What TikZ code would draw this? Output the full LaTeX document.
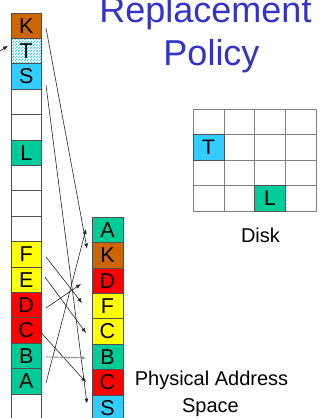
\documentclass[tikz,border=0pt]{standalone}
\usepackage{fontspec}
\setmainfont{Liberation Sans}
\usetikzlibrary{arrows.meta,patterns}
\definecolor{korange}{HTML}{CC6600}
\definecolor{kcyan}{HTML}{33CCFF}
\definecolor{kgreen}{HTML}{00CC99}
\definecolor{kyellow}{HTML}{FFFF00}
\definecolor{kred}{HTML}{FF0000}
\definecolor{ktitle}{HTML}{3333CC}
\definecolor{cellgray}{HTML}{505050}
\definecolor{gridgray}{HTML}{808080}
\pgfdeclarepatternformonly{finecheck}{\pgfpointorigin}{\pgfqpoint{3pt}{3pt}}{\pgfqpoint{3pt}{3pt}}{
  \pgfpathrectangle{\pgfpointorigin}{\pgfqpoint{1.55pt}{1.55pt}}
  \pgfpathrectangle{\pgfqpoint{1.5pt}{1.5pt}}{\pgfqpoint{1.55pt}{1.55pt}}
  \pgfusepath{fill}}
\begin{document}
\begin{tikzpicture}[x=1pt,y=-1pt,
  cellbox/.style={draw=cellgray, line width=0.8pt, minimum width=30.5pt, minimum height=25.4pt,
    inner sep=0pt, outer sep=0pt, font=\fontsize{21.5}{22}\selectfont, anchor=center},
  gridbox/.style={draw=gridgray, line width=0.8pt, minimum width=30.7pt, minimum height=25.5pt,
    inner sep=0pt, outer sep=0pt, font=\fontsize{21}{22}\selectfont, anchor=center},
  arr/.style={draw=black!85, line width=0.6pt, -{Latex[length=5pt,width=4pt]}},
  garr/.style={draw=black!45, line width=0.9pt, -{Latex[length=5pt,width=4pt]}},
  lbl/.style={font=\fontsize{20}{22}\selectfont, anchor=base, inner sep=0pt},
  ttl/.style={font=\fontsize{36}{40}\selectfont, text=ktitle, anchor=base, inner sep=0pt}]
\useasboundingbox (0,0) rectangle (320,418);

% left column (virtual address space)
\foreach \i in {0,...,15}{
  \node[cellbox] (L\i) at (26.25,{25.7+25.4*\i}) {};
}
\node[cellbox, fill=korange] (L0) at (26.25,25.7) {K};
\node[cellbox, fill=kcyan!40, pattern=finecheck, pattern color=kcyan] (L1p) at (26.25,51.1) {};
\node[cellbox] (L1) at (26.25,51.1) {T};
\node[cellbox, fill=kcyan] (L2) at (26.25,76.5) {S};
\node[cellbox, fill=kgreen] (L5) at (26.25,152.7) {L};
\node[cellbox, fill=kyellow] (L9) at (26.25,254.3) {F};
\node[cellbox, fill=kyellow] (L10) at (26.25,279.7) {E};
\node[cellbox, fill=kred] (L11) at (26.25,305.1) {D};
\node[cellbox, fill=kred] (L12) at (26.25,330.5) {C};
\node[cellbox, fill=kgreen] (L13) at (26.25,355.9) {B};
\node[cellbox, fill=kgreen] (L14) at (26.25,381.3) {A};

% right column (physical memory)
\node[cellbox, minimum width=31pt, fill=kgreen] (R8) at (107.5,229.9) {A};
\node[cellbox, minimum width=31pt, fill=korange] (R9) at (107.5,255.3) {K};
\node[cellbox, minimum width=31pt, fill=kred] (R10) at (107.5,280.7) {D};
\node[cellbox, minimum width=31pt, fill=kyellow] (R11) at (107.5,306.1) {F};
\node[cellbox, minimum width=31pt, fill=kyellow] (R12) at (107.5,331.5) {C};
\node[cellbox, minimum width=31pt, fill=kgreen] (R13) at (107.5,356.9) {B};
\node[cellbox, minimum width=31pt, fill=kred] (R14) at (107.5,382.3) {C};
\node[cellbox, minimum width=31pt, fill=kcyan] (R15) at (107.5,407.7) {S};

% disk grid
\foreach \r in {0,...,3}{
  \foreach \c in {0,...,3}{
    \node[gridbox] (G\r\c) at ({193.3+15.35+30.7*\c},{109+12.75+25.5*\r}) {};
  }
}
\node[gridbox, draw=cellgray, fill=kcyan] (DT) at (G10) {T};
\node[gridbox, draw=cellgray, fill=kgreen] (DL) at (G32) {L};

% labels
\node[ttl] (title1) at (205.5,22) {Replacement};
\node[ttl] (title2) at (211.5,65) {Policy};
\node[lbl] (disk) at (260.5,242) {Disk};
\node[lbl] (pas1) at (211.5,385) {Physical Address};
\node[lbl] (pas2) at (210.5,412) {Space};

% mapping arrows
\draw[arr] ([xshift=4.5pt,yshift=-2.3pt]L0.east) -- ([xshift=-5pt,yshift=6.7pt]R9.west);
\draw[arr] ([xshift=4.5pt,yshift=-8.5pt]L2.east) -- ([xshift=-5pt,yshift=4.1pt]R15.west);
\draw[arr] ([xshift=4.5pt,yshift=-1.7pt]L14.east) -- ([xshift=-6pt,yshift=0.9pt]R8.west);
\draw[arr] ([xshift=4.5pt,yshift=-2.7pt]L9.east) -- ([xshift=-10pt,yshift=3.1pt]R11.west);
\draw[arr] ([xshift=3.5pt,yshift=2.7pt]L10.east) -- ([xshift=-6pt,yshift=-1.5pt]R12.west);
\draw[arr] ([xshift=4.5pt,yshift=-2.9pt]L11.east) -- ([xshift=-11pt,yshift=-3.3pt]R10.west);
\draw[arr] ([yshift=-2.5pt]L12.east) -- ([xshift=-6pt,yshift=0pt]R14.west);
\draw[garr] ([xshift=4.5pt,yshift=-1pt]L13.east) -- ([xshift=-6pt,yshift=-1pt]R13.west);
\coordinate (tsrc) at (-3,53);
\draw[arr] (tsrc) -- ([xshift=-3pt,yshift=5.4pt]L1.west);
\end{tikzpicture}
\end{document}
